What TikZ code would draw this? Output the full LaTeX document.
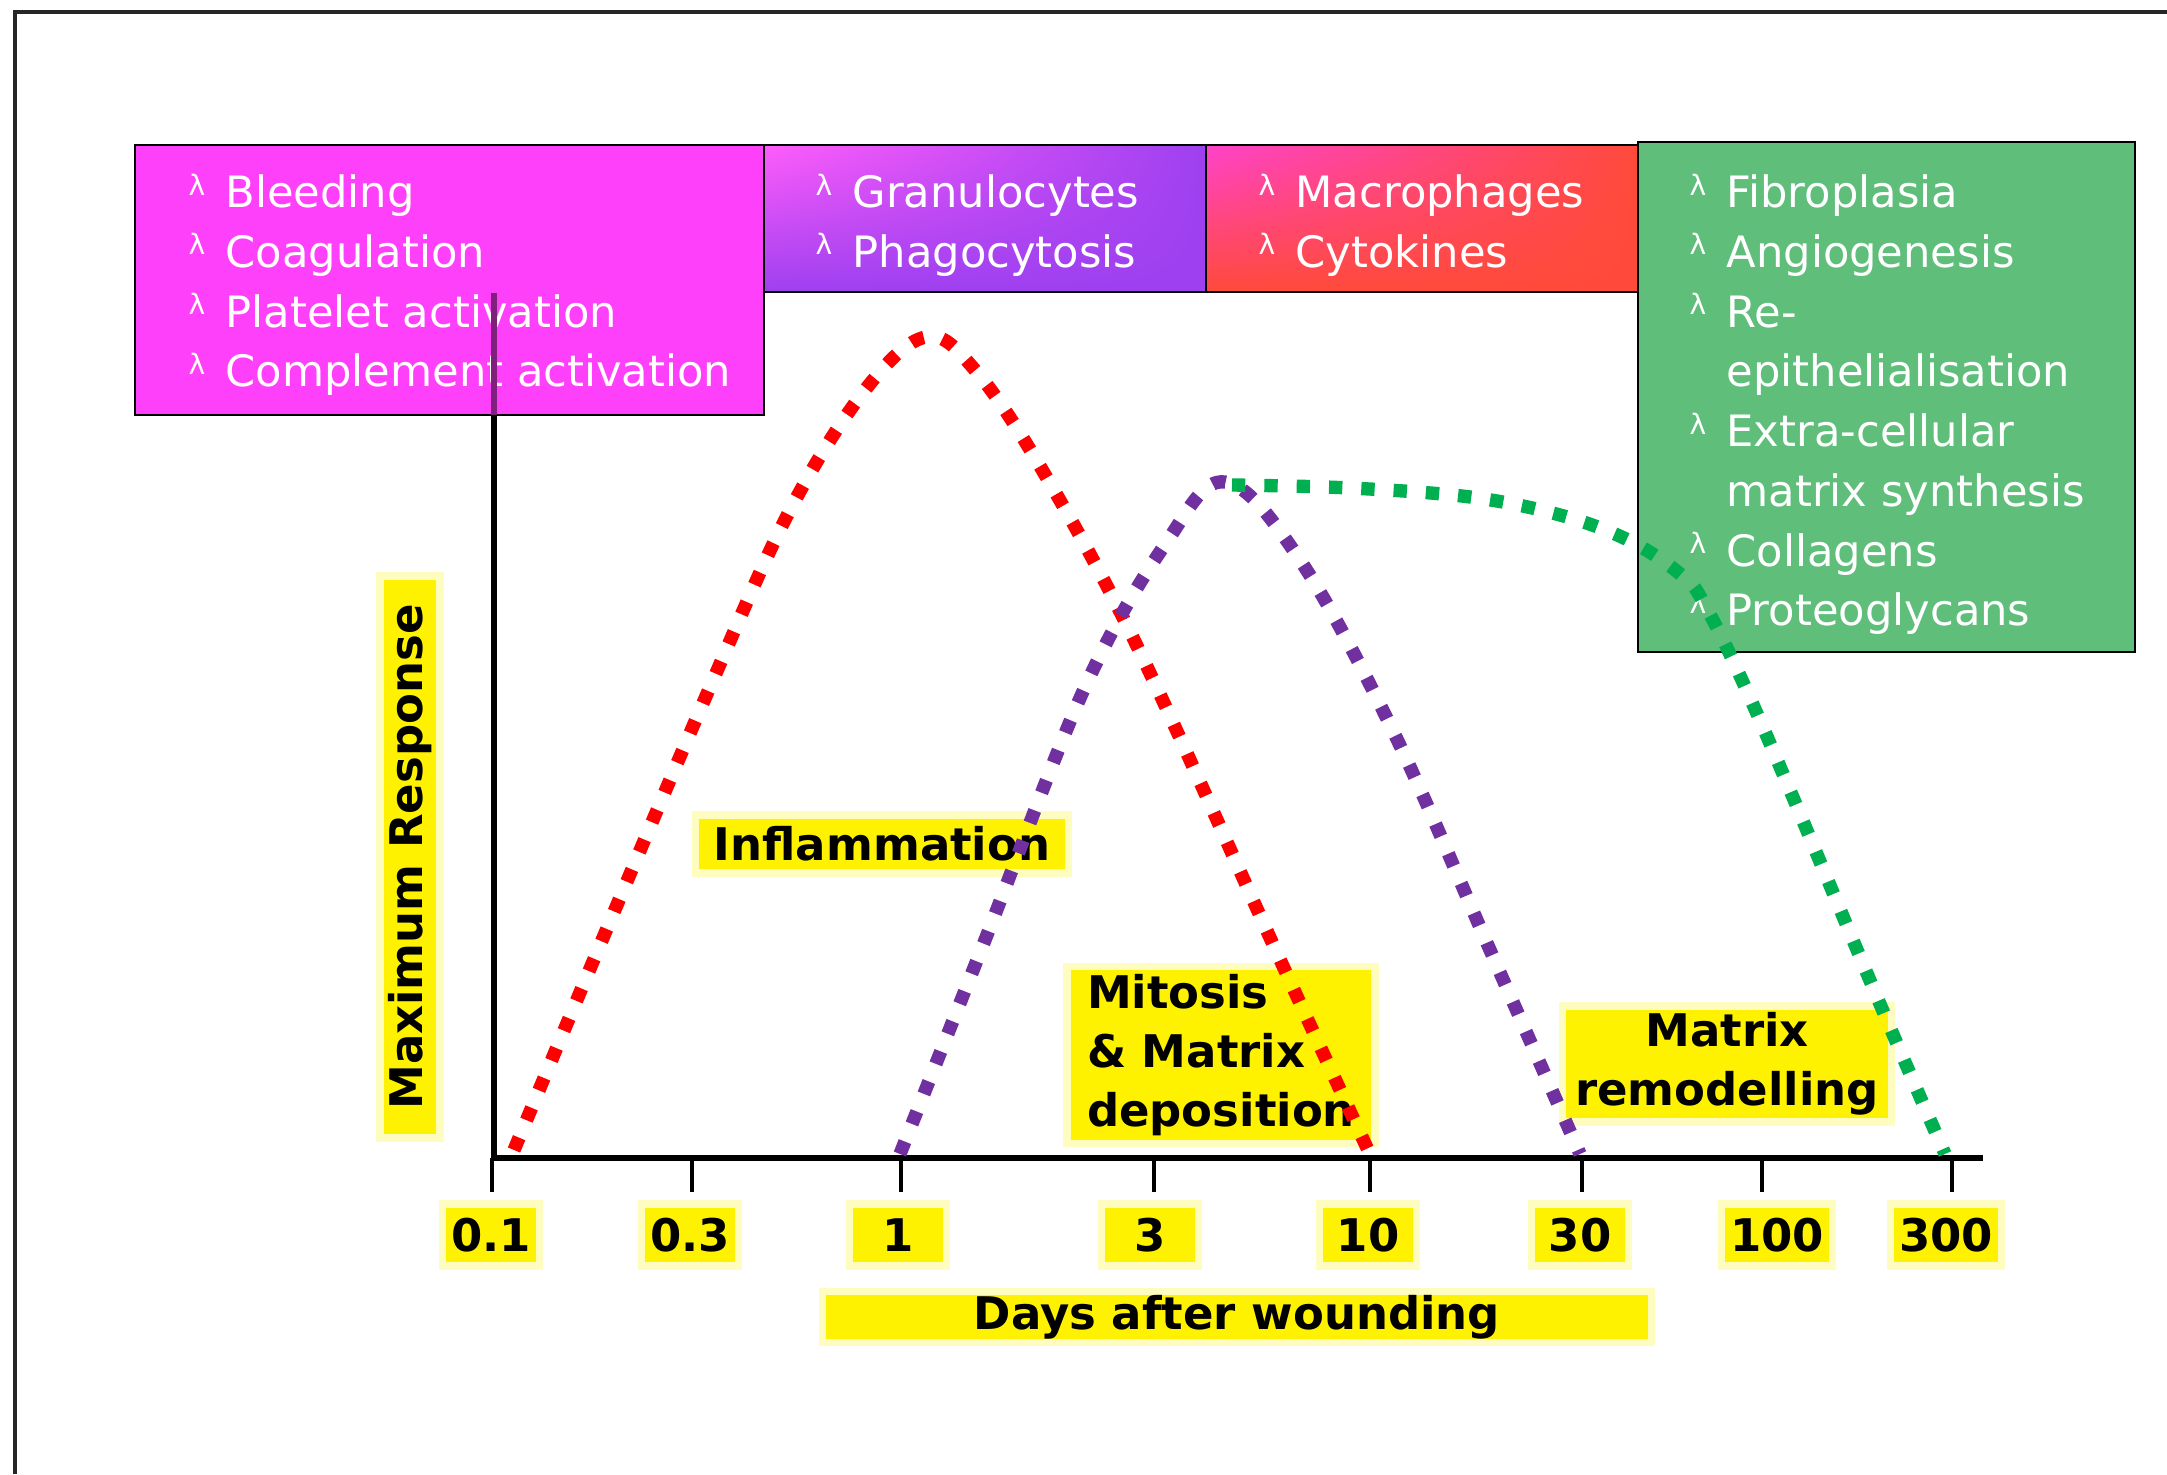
\documentclass[tikz,border=0pt]{standalone}
\usepackage{fontspec}
\setmainfont{DejaVu Sans}
\usepackage{xcolor}
\usepackage{tikz}
\usetikzlibrary{positioning,shadings}

\definecolor{pinkbox}{RGB}{255,64,250}
\definecolor{purplebox}{RGB}{158,64,240}
\definecolor{redbox}{RGB}{255,74,58}
\definecolor{greenbox}{RGB}{94,190,122}
\definecolor{redline}{RGB}{255,0,0}
\definecolor{purpleline}{RGB}{112,48,160}
\definecolor{greenline}{RGB}{0,176,80}

\newcommand{\bul}{\makebox[10.5pt][l]{\raisebox{3.5pt}{\fontsize{8}{8}\selectfont λ}}}

\tikzset{
  panel/.style={rectangle, draw=black, line width=0.8pt, inner sep=0pt, outer sep=0pt},
  list/.style={inner sep=0pt, text=white, font=\fontsize{12.3}{17}\selectfont},
  hl/.style={rectangle, fill=yellow, draw=yellow!25, line width=2pt, inner sep=0pt,
    font=\fontsize{12.8}{16.8}\selectfont\bfseries},
  ticklab/.style={hl, minimum width=0.97cm, minimum height=0.62cm, inner xsep=2.5pt},
  axis/.style={line width=1.8pt},
  tick/.style={line width=0.9pt},
  trend/.style={line width=3.8pt, dash pattern=on 3.8pt off 5.4pt},
}

\begin{document}
\begin{tikzpicture}
  \useasboundingbox (0,0) rectangle (21.67,14.74);
  \draw[line width=1pt, black!85] (0.15,0) -- (0.15,14.62) -- (21.67,14.62);

  % phase boxes
  \node[panel, fill=pinkbox, minimum width=6.29cm, minimum height=2.70cm, anchor=north west] (early) at (1.35,13.29) {};
  \node[panel, upper left=pinkbox!85, upper right=purplebox, lower left=purplebox, lower right=purplebox, shade,
    minimum width=4.42cm, minimum height=1.47cm] (phago) [below right=0pt and 0pt of early.north east] {};
  \node[panel, upper left=pinkbox!75!redbox, upper right=redbox, lower left=redbox, lower right=redbox, shade,
    minimum width=4.32cm, minimum height=1.47cm] (cyto) [below right=0pt and 0pt of phago.north east] {};
  \node[panel, fill=greenbox, minimum width=4.97cm, minimum height=5.10cm] (fibro) [below right=-0.03cm and 0pt of cyto.north east] {};

  \node[list] (earlyt) [below right=0.20cm and 0.53cm of early.north west] {\begin{tabular}{@{}l@{}}
    \bul Bleeding\\ \bul Coagulation\\ \bul Platelet activation\\ \bul Complement activation\end{tabular}};
  \node[list] (phagot) [below right=0.20cm and 0.51cm of phago.north west] {\begin{tabular}{@{}l@{}}
    \bul Granulocytes\\ \bul Phagocytosis\end{tabular}};
  \node[list] (cytot) [below right=0.20cm and 0.52cm of cyto.north west] {\begin{tabular}{@{}l@{}}
    \bul Macrophages\\ \bul Cytokines\end{tabular}};
  \node[list] (fibrot) [below right=0.23cm and 0.51cm of fibro.north west] {\begin{tabular}{@{}l@{}}
    \bul Fibroplasia\\ \bul Angiogenesis\\ \bul Re-\\ \phantom{\bul}epithelialisation\\
    \bul Extra-cellular\\ \phantom{\bul}matrix synthesis\\ \bul Collagens\\ \bul Proteoglycans\end{tabular}};

  % axes
  \coordinate (origin) at (4.94,3.16);
  \coordinate (ytop) at (4.94,11.81);
  \coordinate (xend) at (19.83,3.16);
  \draw[axis, pinkbox!50!black] (ytop) -- (ytop |- early.south);
  \draw[axis] (ytop |- early.south) -- (origin) -- (xend);

  \draw[tick] (4.92,3.16) -- (4.92,2.82);
  \draw[tick] (6.92,3.16) -- (6.92,2.82);
  \draw[tick] (9.01,3.16) -- (9.01,2.82);
  \draw[tick] (11.54,3.16) -- (11.54,2.82);
  \draw[tick] (13.70,3.16) -- (13.70,2.82);
  \draw[tick] (15.82,3.16) -- (15.82,2.82);
  \draw[tick] (17.62,3.16) -- (17.62,2.82);
  \draw[tick] (19.52,3.16) -- (19.52,2.82);

  \node[ticklab] (d1) at (4.91,2.39) {0.1};
  \node[ticklab] (d2) at (6.90,2.39) {0.3};
  \node[ticklab] (d3) at (8.98,2.39) {1};
  \node[ticklab] (d4) at (11.50,2.39) {3};
  \node[ticklab] (d5) at (13.68,2.39) {10};
  \node[ticklab] (d6) at (15.80,2.39) {30};
  \node[ticklab] (d7) at (17.77,2.39) {100};
  \node[ticklab] (d8) at (19.46,2.39) {300};

  % labels
  \node[hl, rotate=90, minimum width=5.62cm, minimum height=0.60cm] (ylab) at (4.10,6.17) {Maximum Response};
  \node[hl, minimum width=8.29cm, minimum height=0.51cm] (xlab) at (12.37,1.57) {Days after wounding};
  \node[hl, minimum width=3.73cm, minimum height=0.58cm] (inflam) at (8.82,6.30) {Inflammation};
  \node[hl, align=left, minimum width=3.08cm, minimum height=1.77cm] (mitosis) at (12.21,4.19) {Mitosis\\\& Matrix\\deposition};
  \node[hl, align=center, minimum width=3.29cm, minimum height=1.16cm] (remodel) at (17.27,4.10) {Matrix\\remodelling};

  % response curves
  \draw[trend, redline] plot[smooth, tension=0.6] coordinates {(5.14,3.24) (6.00,5.29) (7.10,7.87) (7.90,9.64)
    (8.65,10.84) (9.26,11.37) (9.75,11.04) (10.44,10.01) (11.38,8.26) (12.77,5.21) (13.68,3.24)};
  \draw[trend, purpleline] plot[smooth, tension=0.6] coordinates {(9.00,3.20) (9.85,5.34) (10.85,7.87) (11.66,9.31)
    (12.25,9.92) (13.00,9.14) (13.94,7.41) (14.90,5.24) (15.80,3.20)};
  \draw[trend, greenline] plot[smooth, tension=0.6] coordinates {(12.32,9.89) (13.50,9.86) (14.70,9.77) (15.60,9.59)
    (16.28,9.34) (16.80,9.00) (17.06,8.67) (17.62,7.49) (18.77,4.77) (19.45,3.20)};
\end{tikzpicture}
\end{document}
